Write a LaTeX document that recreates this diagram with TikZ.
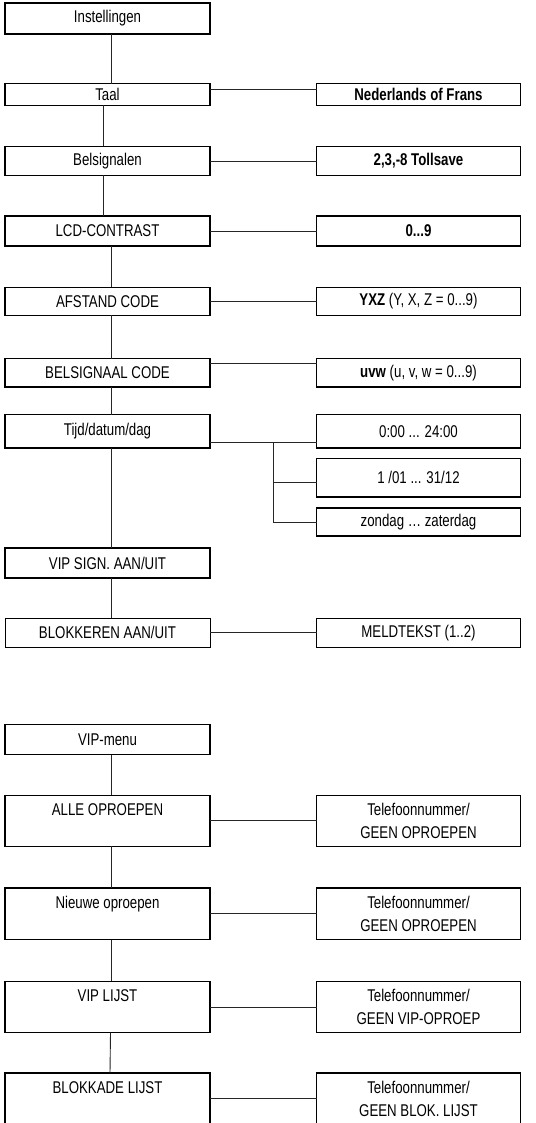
\documentclass[tikz,border=0pt]{standalone}
\usepackage{fontspec}
\setmainfont{Liberation Sans}[FakeStretch=0.78]
\newcommand{\fsz}{\fontsize{17}{23}\selectfont}
\begin{document}
\begin{tikzpicture}[x=1pt,y=-1pt,
  box/.style={draw=black, line width=1.5pt, inner sep=0pt, outer sep=0pt, align=center, font=\fsz},
  lbox/.style={box, minimum width=205pt},
  rbox/.style={box, minimum width=204pt},
  thinbox/.style={line width=0.9pt},
  conn/.style={line width=0.9pt, draw=black!85}]
\useasboundingbox (0,0) rectangle (535,1123);

% left column, first menu
\node[lbox, minimum height=31pt]   (inst)  at (107.5,18.5)  {Instellingen};
\node[lbox, minimum height=21.7pt] (taal)  at (107.5,94.5)  {Taal};
\node[lbox, minimum height=29pt]   (bel)   at (107.5,161)   {Belsignalen};
\node[lbox, minimum height=29.7pt] (lcd)   at (107.5,231)   {LCD-CONTRAST};
\node[lbox, minimum height=28pt]   (afst)  at (107.5,301.3) {AFSTAND CODE};
\node[lbox, minimum height=28.3pt] (bcode) at (107.5,372.8) {BELSIGNAAL CODE};
\node[lbox, minimum height=33.3pt] (tijd)  at (107.5,431.3) {Tijd/datum/dag};
\node[lbox, minimum height=30pt]   (vip)   at (107.5,563)   {VIP SIGN. AAN/UIT};
\node[lbox, thinbox, minimum height=29.7pt] (blok) at (107.5,632.8) {BLOKKEREN AAN/UIT};

% right column, first menu
\node[rbox, minimum height=21.7pt] (nl)   at (418.5,94.5)  {\bfseries Nederlands of Frans};
\node[rbox, minimum height=29pt]   (toll) at (418.5,161)   {\bfseries 2,3,-8 Tollsave};
\node[rbox, minimum height=29.7pt] (z9)   at (418.5,231)   {\bfseries 0...9};
\node[rbox, minimum height=28pt]   (yxz)  at (418.5,301.3) {\textbf{YXZ} (Y, X, Z = 0...9)};
\node[rbox, minimum height=28.3pt] (uvw)  at (418.5,372.8) {\textbf{uvw} (u, v, w = 0...9)};
\node[rbox, minimum height=33.3pt] (t1)   at (418.5,431.3) {0:00 ... 24:00};
\node[rbox, minimum height=38.3pt] (t2)   at (418.5,477.8) {1 /01 ... 31/12};
\node[rbox, minimum height=28pt]   (t3)   at (418.5,522)   {zondag … zaterdag};
\node[rbox, thinbox, minimum height=29.7pt] (meld) at (418.5,632.8) {MELDTEKST (1..2)};

% second menu
\node[lbox, minimum height=30pt]   (vmenu) at (107.5,739.7)  {VIP-menu};
\node[lbox, minimum height=51pt]   (alle)  at (107.5,820.8)  {ALLE OPROEPEN\\~};
\node[lbox, minimum height=51.7pt] (nieuw) at (107.5,913.8)  {Nieuwe oproepen\\~};
\node[lbox, minimum height=51.3pt] (vlijst) at (107.5,1007)  {VIP LIJST\\~};
\node[lbox, minimum height=51.5pt] (blijst) at (107.5,1098.75) {BLOKKADE LIJST\\~};

\node[rbox, minimum height=51pt]   (r1) at (418.5,820.8)  {Telefoonnummer/\\GEEN OPROEPEN};
\node[rbox, minimum height=51.7pt] (r2) at (418.5,913.8)  {Telefoonnummer/\\GEEN OPROEPEN};
\node[rbox, minimum height=51.3pt] (r3) at (418.5,1007)   {Telefoonnummer/\\GEEN VIP-OPROEP};
\node[rbox, minimum height=51.5pt] (r4) at (418.5,1098.75) {Telefoonnummer/\\GEEN BLOK. LIJST};

% vertical connectors
\draw[conn] ([xshift=3.5pt]inst.south)  -- ([xshift=3.5pt]taal.north);
\draw[conn] ([xshift=-4.5pt]taal.south) -- ([xshift=-4.5pt]bel.north);
\draw[conn] ([xshift=-4.5pt]bel.south)  -- ([xshift=-4.5pt]lcd.north);
\draw[conn] ([xshift=3.5pt]lcd.south)   -- ([xshift=3.5pt]afst.north);
\draw[conn] ([xshift=3.5pt]afst.south)  -- ([xshift=3.5pt]bcode.north);
\draw[conn] ([xshift=3.5pt]bcode.south) -- ([xshift=3.5pt]tijd.north);
\draw[conn] ([xshift=3.5pt]tijd.south)  -- ([xshift=3.5pt]vip.north);
\draw[conn] ([xshift=3.5pt]vip.south)   -- ([xshift=3.5pt]blok.north);
\draw[conn] ([xshift=3.5pt]vmenu.south) -- ([xshift=3.5pt]alle.north);
\draw[conn] ([xshift=3.5pt]alle.south)  -- ([xshift=3.5pt]nieuw.north);
\draw[conn] ([xshift=3.5pt]nieuw.south) -- ([xshift=3.5pt]vlijst.north);
\draw[conn] ([xshift=3pt]vlijst.south)  -- ([xshift=2.5pt]blijst.north);

% horizontal connectors
\draw[conn] ([yshift=5.5pt]taal.east) -- ([yshift=5.5pt]nl.west);
\draw[conn] (bel.east)  -- (toll.west);
\draw[conn] (lcd.east)  -- (z9.west);
\draw[conn] (afst.east) -- (yxz.west);
\draw[conn] ([yshift=9.5pt]bcode.east) -- ([yshift=9.5pt]uvw.west);
\draw[conn] ([yshift=-10.7pt]tijd.east) -- ([yshift=-10.7pt]t1.west);
\coordinate (j) at (273,442);
\draw[conn] (j) |- ([yshift=-4.2pt]t2.west);
\draw[conn] (j) |- (t3.west);
\draw[conn] (blok.east) -- (meld.west);
\draw[conn] (alle.east)   -- (r1.west);
\draw[conn] (nieuw.east)  -- (r2.west);
\draw[conn] (vlijst.east) -- (r3.west);
\draw[conn] (blijst.east) -- (r4.west);
\end{tikzpicture}
\end{document}
